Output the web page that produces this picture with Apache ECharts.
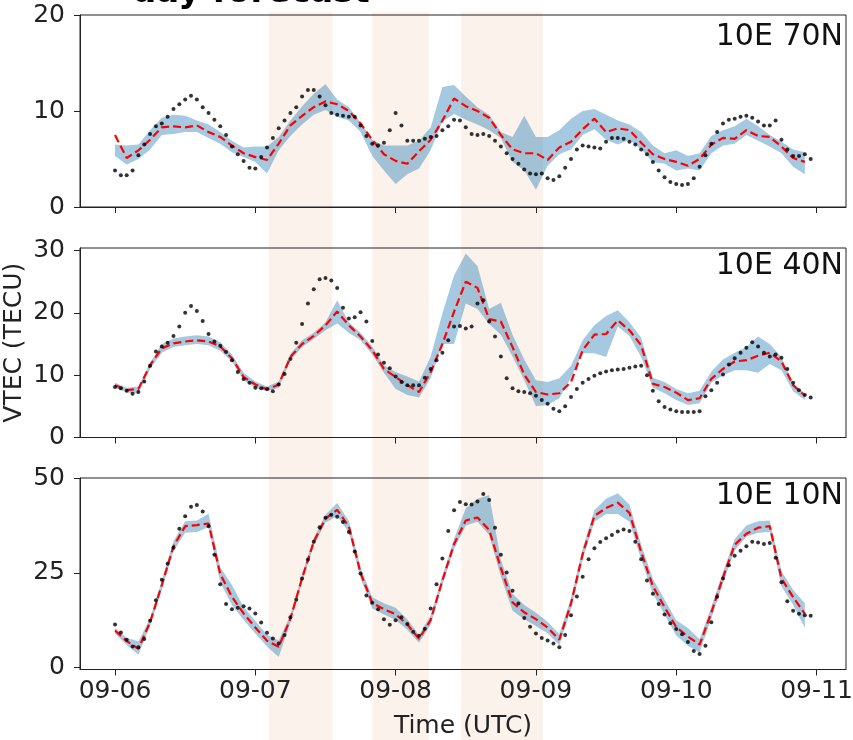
<!DOCTYPE html>
<html><head><meta charset="utf-8">
<script src="https://cdn.jsdelivr.net/npm/echarts@6/dist/echarts.min.js"></script>
<style>html,body{margin:0;padding:0;background:#fff}#c{width:853px;height:740px}</style>
</head><body><div id="c"></div>
<script>
// ---- data ----
const hoursObs = [0,1,2,3,4,5,6,7,8,9,10,11,12,13,14,15,16,17,18,19,20,21,22,23,24,25,26,27,28,29,30,31,32,33,34,35,36,37,38,39,40,41,42,43,44,45,46,47,48,49,50,51,52,53,54,55,56,57,58,59,60,61,62,63,64,65,66,67,68,69,70,71,72,73,74,75,76,77,78,79,80,81,82,83,84,85,86,87,88,89,90,91,92,93,94,95,96,97,98,99,100,101,102,103,104,105,106,107,108,109,110,111,112,113,114,115,116,117,118,119];
const hoursFc = [0,2,4,6,8,10,12,14,16,18,20,22,24,26,28,30,32,34,36,38,40,42,44,46,48,50,52,54,56,58,60,62,64,66,68,70,72,74,76,78,80,82,84,86,88,90,92,94,96,98,100,102,104,106,108,110,112,114,116,118];
const tickHours = [0,24,48,72,96,120];
const tickLabels = ['09-06','09-07','09-08','09-09','09-10','09-11'];
const panelNames = ['10E 70N','10E 40N','10E 10N'];
const figTitle = 'day forecast';
const shadeStart = [26.3, 44.0, 59.2];
const shadeEnd = [37.2, 53.7, 73.2];
const yTicks70 = [0,10,20];
const yTicks40 = [0,10,20,30];
const yTicks10 = [0,25,50];

const obs70 = [3.8,3.3,3.3,3.8,5.4,6.5,7.6,8.4,8.7,9.4, 10.2,10.7,11.2,11.6,11.2,10.4,9.8,9.1,8.4,7.5, 6.3,5.5,4.8,4.1,4.0,5.2,6.2,7.2,8.2,9.0, 9.8,10.4,11.5,12.2,12.2,11.5,10.6,9.8,9.6,9.5, 9.4,9.4,8.5,7.4,6.6,6.4,6.7,8.0,9.8,8.5, 6.9,6.9,6.9,7.1,7.3,7.4,8.0,8.4,9.1,9.0, 8.3,7.6,7.5,7.6,7.4,6.9,6.3,5.6,5.0,4.5, 3.9,3.5,3.4,3.5,3.0,2.8,3.2,4.1,5.0,6.0, 6.4,6.3,6.2,6.1,6.8,7.2,7.2,7.1,6.8,6.5, 6.0,5.5,4.7,3.8,3.1,2.6,2.4,2.3,2.4,3.0, 4.2,5.4,6.6,7.8,8.7,9.1,9.2,9.4,9.5,9.3, 8.9,8.5,8.5,9.0,7.0,6.0,5.3,5.3,5.5,5.0];
const mean70 = [7.5,5.1,5.9,7.0,8.3,8.4,8.3,8.5,7.8,7.3, 6.4,5.6,5.2,4.9,6.6,8.5,9.5,10.4,11.0,10.7, 10.0,8.7,7.0,5.5,4.8,4.5,5.8,7.0,9.0,11.3, 10.5,10.0,9.3,7.5,6.0,5.6,5.6,4.9,6.2,6.8, 8.1,9.2,7.8,8.2,8.0,6.7,5.5,5.0,4.7,4.3, 5.0,6.5,7.2,7.1,8.0,7.4,7.3,6.3,5.1,4.7];
const upper70 = [6.5,6.4,6.5,8.0,9.3,9.6,9.5,9.0,8.6,7.8, 6.9,6.2,6.3,6.3,7.3,9.0,10.5,11.8,12.8,11.2, 10.4,8.8,7.0,6.4,6.4,6.4,6.9,8.3,12.5,12.7, 11.5,10.4,9.6,7.8,7.3,9.5,7.3,7.3,8.0,9.2, 10.0,10.2,9.6,9.0,8.6,7.8,6.4,5.6,5.9,5.3, 5.6,7.4,8.0,8.4,9.2,8.4,7.5,6.8,6.0,5.7];
const lower70 = [5.3,4.4,5.0,6.0,7.5,7.6,7.8,7.8,7.2,6.6, 5.7,5.2,4.7,3.5,5.9,7.4,8.6,9.6,10.1,9.4, 9.0,7.8,5.3,3.8,2.4,3.4,4.0,5.9,8.9,9.7, 9.1,8.6,8.0,7.2,4.7,3.8,1.8,4.3,5.5,6.0, 7.5,8.1,7.0,6.5,7.0,6.0,4.7,4.5,3.8,4.0, 3.8,5.6,6.4,6.6,7.5,6.9,6.3,5.6,4.2,3.4];

const obs40 = [8.1,7.9,7.5,7.0,7.3,9.0,11.5,13.8,14.6,15.2, 16.3,17.8,20.0,21.1,20.3,18.7,16.6,15.4,14.7,13.7, 12.4,10.5,9.4,8.8,8.0,7.9,7.8,7.4,8.5,10.2, 12.6,15.2,18.2,21.5,23.8,25.4,25.6,25.2,24.0,20.8, 19.1,19.3,20.1,18.6,15.5,13.3,12.0,11.1,9.8,8.9, 8.4,8.4,8.4,9.6,11.0,12.4,13.6,15.6,17.8,17.9, 17.5,17.8,21.5,22.0,18.6,16.2,13.0,9.5,7.9,7.4, 7.3,7.1,6.7,6.0,5.4,4.6,4.2,5.0,6.5,7.8, 8.8,9.4,9.9,10.3,10.6,10.8,10.9,11.0,11.2,11.4, 11.5,10.0,7.5,5.8,4.9,4.5,4.2,4.1,4.1,4.1, 4.2,6.6,7.6,8.8,10.1,11.7,12.7,13.6,14.4,15.3, 14.6,13.6,13.0,13.3,12.8,11.0,8.8,7.6,6.8,6.4];
const mean40 = [8.4,7.6,7.8,11.6,14.3,15.1,15.4,15.6,15.4,14.6, 12.7,9.7,8.5,7.7,8.5,12.9,15.0,16.3,18.0,20.2, 18.0,16.2,14.0,11.0,9.7,8.4,7.3,10.5,15.0,20.2, 25.0,24.0,19.0,18.6,14.5,10.1,7.3,6.9,7.1,8.9, 14.0,16.5,16.6,18.8,17.2,14.8,8.6,8.1,7.2,6.0, 6.3,9.4,11.0,12.2,12.4,13.1,13.6,12.2,8.4,6.7];
const upper40 = [8.8,8.0,8.2,12.0,15.0,15.9,16.2,16.4,16.2,15.3, 13.3,10.4,9.0,8.2,9.0,13.4,15.6,16.8,18.5,22.0, 18.5,16.8,14.6,11.6,10.5,9.8,9.0,13.0,19.9,26.0, 29.5,27.5,20.6,21.6,16.5,12.5,9.2,8.9,9.5,11.5, 15.6,18.0,19.5,20.4,18.5,16.0,9.6,8.9,7.8,7.1, 7.5,10.6,12.5,13.6,14.5,16.2,15.0,12.9,8.6,7.1];
const lower40 = [8.0,7.2,7.0,11.0,13.6,14.5,14.8,15.0,14.8,13.9, 12.2,9.2,8.0,7.4,8.0,12.4,14.5,15.8,17.2,18.3, 16.8,15.6,13.3,10.4,7.8,6.8,6.4,9.5,15.0,15.0, 21.5,20.6,18.2,16.5,13.0,9.2,5.0,5.2,6.3,9.6, 13.5,13.5,12.9,17.8,16.3,12.9,8.0,7.1,6.0,5.2, 5.5,8.8,10.0,10.8,10.8,10.4,11.8,10.8,7.4,6.0];

const obs10 = [11.4,9.3,7.4,5.6,5.4,7.6,12.4,17.8,23.2,27.4, 31.6,36.6,39.9,42.4,42.9,41.2,37.3,29.8,22.0,16.8, 15.4,15.8,16.2,15.6,14.3,11.9,9.2,7.7,6.4,8.6, 13.3,17.9,23.5,28.5,33.2,37.0,39.5,40.3,39.8,38.4, 35.8,30.6,24.8,19.0,17.1,15.4,12.8,11.3,12.5,13.3, 11.5,9.5,8.4,10.3,15.6,22.0,28.8,36.0,41.5,43.7, 43.1,43.0,43.8,45.8,44.2,36.9,29.8,25.1,20.3,16.9, 13.1,10.8,9.0,7.8,7.2,6.4,5.4,8.6,13.8,18.8, 24.0,28.6,31.5,33.1,34.1,35.0,35.9,36.4,36.0,33.2, 28.6,23.0,19.5,16.8,14.0,11.7,10.2,8.8,6.8,4.4, 3.6,5.8,12.0,18.7,23.5,27.0,29.5,30.8,32.0,33.2, 33.0,32.6,32.9,29.0,22.5,17.5,15.0,14.2,13.8,13.7];
const mean10 = [9.8,7.0,5.0,12.0,21.8,32.0,37.3,37.6,38.0,24.7, 18.7,14.3,10.6,7.1,5.5,12.9,23.6,33.2,39.3,41.6, 37.2,25.0,17.1,15.4,14.1,11.4,7.6,12.6,23.0,32.6, 38.8,39.6,36.3,26.3,17.2,14.6,12.8,10.6,7.4,16.9, 30.0,40.0,42.1,43.5,40.8,30.5,21.5,16.0,10.7,8.2, 6.1,14.5,23.8,32.4,35.3,36.9,37.3,23.5,18.6,14.2];
const upper10 = [10.5,7.8,7.0,13.0,23.0,33.3,38.6,38.8,40.6,26.5, 21.8,16.0,12.3,8.7,7.2,13.9,24.6,34.2,40.3,43.4, 38.7,26.5,18.6,17.0,15.8,12.8,8.6,13.8,24.2,34.0, 42.0,44.5,45.5,28.5,19.5,16.5,14.5,12.1,8.9,18.4, 31.5,41.5,44.5,46.0,43.0,32.5,23.5,18.0,12.5,10.5, 7.5,16.0,25.3,33.9,37.5,38.6,38.8,25.5,20.5,17.0];
const lower10 = [9.0,6.0,3.4,11.0,20.5,30.7,35.6,35.8,37.0,22.5, 16.5,12.6,9.0,5.6,2.8,11.9,22.6,32.2,38.3,39.9, 35.7,23.5,15.6,14.0,12.6,10.0,6.6,11.4,21.8,31.2, 37.5,38.5,35.0,24.0,15.0,12.8,11.0,9.1,5.9,15.4, 28.5,38.5,40.5,40.5,38.5,28.5,19.5,14.0,8.5,5.8, 4.0,13.0,22.3,30.9,34.5,35.6,35.8,21.5,16.5,10.5];

// ---- chart ----
const FONT = 'DejaVu Sans';
const TXT = '#222';
const panels = [
  {obs: obs70, mean: mean70, upper: upper70, lower: lower70, yTicks: yTicks70, min: 0, max: 20, top: 15, height: 192},
  {obs: obs40, mean: mean40, upper: upper40, lower: lower40, yTicks: yTicks40, min: 0, max: 30.4, top: 248, height: 189.5},
  {obs: obs10, mean: mean10, upper: upper10, lower: lower10, yTicks: yTicks10, min: -0.47, max: 50, top: 478, height: 191.5}
];
const XMIN = -5.99, XMAX = 125.04;
const LEFT = 80, RIGHT = 7;

function bandRenderer(lo, hi) {
  return function (params, api) {
    if (params.dataIndex !== 0) return null;
    const pts = [];
    for (let k = 0; k < hoursFc.length; k++) pts.push(api.coord([hoursFc[k], hi[k]]));
    for (let k = hoursFc.length - 1; k >= 0; k--) pts.push(api.coord([hoursFc[k], lo[k]]));
    return {type: 'polygon', shape: {points: pts}, style: {fill: 'rgba(31,119,180,0.4)'}};
  };
}

const grids = [], xAxes = [], yAxes = [], series = [];
panels.forEach((p, i) => {
  grids.push({left: LEFT, right: RIGHT, top: p.top, height: p.height, show: true,
    borderColor: '#222', borderWidth: 1, backgroundColor: 'transparent', outerBoundsMode: 'none', z: 3});
  const last = i === panels.length - 1;
  xAxes.push({type: 'value', gridIndex: i, min: XMIN, max: XMAX,
    axisLine: {show: true, onZero: false, lineStyle: {color: '#222', width: 1}},
    axisTick: {show: true, length: 6, customValues: tickHours, lineStyle: {color: '#222'}},
    axisLabel: {show: last, customValues: tickHours, margin: 9, fontSize: 25, fontFamily: FONT, color: TXT,
      formatter: v => tickLabels[tickHours.indexOf(v)] || ''},
    splitLine: {show: false},
    name: last ? 'Time (UTC)' : '', nameLocation: 'middle', nameGap: 44, nameMoveOverlap: false,
    nameTextStyle: {fontSize: 25, fontFamily: FONT, color: TXT}, z: 3});
  yAxes.push({type: 'value', gridIndex: i, min: p.min, max: p.max,
    axisLine: {show: true, onZero: false, lineStyle: {color: '#222', width: 1}},
    axisTick: {show: true, length: 6, customValues: p.yTicks, lineStyle: {color: '#222'}},
    axisLabel: {customValues: p.yTicks, margin: 15, fontSize: 25, fontFamily: FONT, color: TXT},
    splitLine: {show: false},
    name: i === 1 ? 'VTEC (TECU)' : '', nameLocation: 'middle', nameGap: 53, nameMoveOverlap: false,
    nameTextStyle: {fontSize: 25, fontFamily: FONT, color: TXT}, z: 3});

  series.push({type: 'custom', xAxisIndex: i, yAxisIndex: i,
    data: hoursFc.map((h, k) => [h, p.lower[k], p.upper[k]]),
    encode: {x: 0, y: [1, 2]}, renderItem: bandRenderer(p.lower, p.upper), silent: true, z: 2});
  series.push({type: 'line', xAxisIndex: i, yAxisIndex: i, data: hoursFc.map((h, k) => [h, p.mean[k]]),
    symbol: 'none', lineStyle: {color: '#ff0000', width: 2.2, type: [8, 4]}, silent: true, z: 4});
  series.push({type: 'scatter', xAxisIndex: i, yAxisIndex: i, data: hoursObs.map((h, k) => [h, p.obs[k]]),
    symbolSize: 4, itemStyle: {color: '#000'}, silent: true, z: 5});
});

// full-height shading grid
grids.push({left: LEFT, right: RIGHT, top: 12, bottom: 0, show: false, outerBoundsMode: 'none'});
xAxes.push({type: 'value', gridIndex: 3, min: XMIN, max: XMAX, show: false});
yAxes.push({type: 'value', gridIndex: 3, min: 0, max: 1, show: false});
series.push({type: 'line', xAxisIndex: 3, yAxisIndex: 3, data: [], silent: true, z: 0,
  markArea: {silent: true, itemStyle: {color: 'rgba(230,130,70,0.1)'},
    data: shadeStart.map((s, k) => [{xAxis: s}, {xAxis: shadeEnd[k]}])}});

const titles = panelNames.map((t, i) => ({text: t, right: 10, top: [22, 251, 481][i], padding: 0,
  textStyle: {fontSize: 30, fontWeight: 'normal', color: '#111', fontFamily: FONT}}));
titles.push({text: figTitle, left: 132, top: -24, padding: 0,
  textStyle: {fontSize: 34, fontWeight: 'bold', color: '#000', fontFamily: FONT}});

const chart = echarts.init(document.getElementById('c'), null, {renderer: 'canvas'});
chart.setOption({
  animation: false,
  backgroundColor: '#fff',
  title: titles,
  grid: grids, xAxis: xAxes, yAxis: yAxes, series: series
});
</script></body></html>
